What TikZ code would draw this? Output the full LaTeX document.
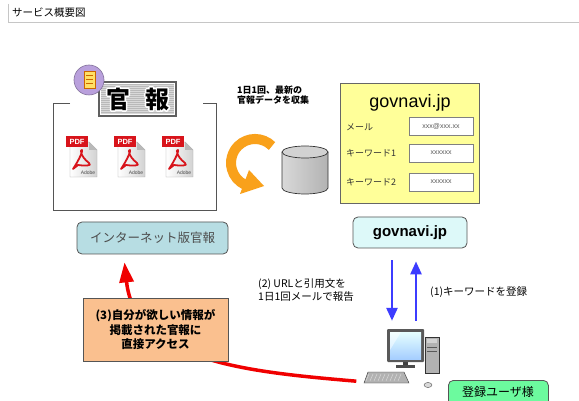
\documentclass[tikz,border=0pt]{standalone}
\usepackage{fontspec}
\setmainfont{Noto Sans CJK JP}
\newfontfamily\latinfont{Liberation Sans}
\usetikzlibrary{arrows.meta,calc}

\definecolor{framegray}{HTML}{555555}
\definecolor{formyellow}{HTML}{FFFF99}
\definecolor{webblue}{HTML}{B7DDE3}
\definecolor{svcfill}{HTML}{DDF9F9}
\definecolor{notefill}{HTML}{FAC08F}
\definecolor{userfill}{HTML}{6CFA9E}
\definecolor{cycleorange}{HTML}{F9A11B}
\definecolor{mailblue}{HTML}{3C3CFF}
\definecolor{accessred}{HTML}{F00000}
\definecolor{pdfred}{HTML}{D8141B}
\definecolor{badgepurple}{HTML}{B9A0DC}

\newcommand{\fs}[1]{\fontsize{#1}{#1}\selectfont}
% white glyph outline, stroked only
\newcommand{\strokedonly}[1]{\special{pdf:literal direct 1 Tr 1 1 1 RG 3.2 w 1 j}#1\special{pdf:literal direct 0 Tr}}

\tikzset{
  roundbox/.style={draw=framegray, line width=0.8pt, rounded corners=5pt, inner sep=0pt},
  formfield/.style={draw=gray, fill=white, minimum width=64pt, minimum height=18pt,
                    inner sep=0pt, font=\latinfont\fs{7}, text=gray!70!black},
  formlabel/.style={anchor=west, inner sep=0pt, font=\fs{9}, text=black!80},
  caption/.style={align=left, inner sep=0pt, font=\fs{10.5}},
  bannerglyph/.style={inner sep=0pt, font=\bfseries\fs{24}},
  mailarrow/.style={draw=mailblue, line width=2.6pt, -{Triangle[length=13pt,width=11pt]}},
  pdficon/.pic={
    \shade[left color=white, right color=gray!35, draw=gray!70]
      (-11,-14) -- (8,-14) -- (16,-6) -- (16,21) -- (-11,21) -- cycle;
    \fill[gray!55] (8,-14) -- (8,-6) -- (16,-6) -- cycle;
    \fill[pdfred] (-15,-20) rectangle (7,-9);
    \node[inner sep=0pt, text=white, font=\latinfont\bfseries\fs{7.5}] at (-4,-14.5) {PDF};
    \draw[pdfred, line width=1.8pt, line join=round]
      (-8,13) .. controls (-2,4) and (2,-5) .. (1,-6)
      .. controls (-1,-7) and (-1,0) .. (8,7)
      .. controls (12,10) and (3,10) .. (-3,9) -- cycle;
    \node[inner sep=0pt, text=gray!60!black, font=\latinfont\fs{5}] at (7,17) {Adobe};
  }
}

\begin{document}
\begin{tikzpicture}[x=1pt,y=-1pt]
\useasboundingbox (0,0) rectangle (579,401);
\fill[white] (0,0) rectangle (579,401);

% page heading
\draw[gray!45, line width=0.8pt] (8,4) -- (8,22) -- (579,22);
\node[anchor=west, inner sep=0pt, font=\fs{10.5}] (title) at (12,13) {サービス概要図};

% gazette frame
\draw[framegray, line width=0.9pt] (70,103) -- (53,103) -- (53,210) -- (216,210) -- (216,103) -- (203,103);

% gazette banner
\fill[gray!75!black] (98,81) rectangle (177,117);
\fill[gray!55] (101,84) rectangle (174,114);
\foreach \yy in {85,87,...,113} \draw[gray!30, line width=0.6pt] (101,\yy) -- (174,\yy);
\draw[white, line width=0.8pt] (100.5,83.5) rectangle (174.5,114.5);
\node[bannerglyph] (kanedge) at (118,99) {\strokedonly{官}};
\node[bannerglyph] (poedge) at (157,99) {\strokedonly{報}};
\node[bannerglyph] (kan) at (118,99) {官};
\node[bannerglyph] (po) at (157,99) {報};

% badge
\fill[badgepurple, draw=badgepurple!70!black, line width=0.6pt] (89,80) circle (15);
\fill[orange!40!yellow!60, draw=orange!80!black, line width=0.5pt] (84,71) rectangle (95,88);
\foreach \yy in {75,79,83} \draw[orange!80!black, line width=0.7pt] (86,\yy) -- (93,\yy);

% pdf documents
\pic at (81,156) {pdficon};
\pic at (129,156) {pdficon};
\pic at (177,156) {pdficon};

% collection arrow
\draw[cycleorange, line width=10pt] (272,146) arc[start angle=-45, end angle=-245, radius=24];
\fill[cycleorange] (249,170) -- (240,194) -- (264,186) -- cycle;

% database
\shade[left color=gray!30, right color=gray!60] (282,152) -- (282,188) arc[start angle=-180, end angle=0, x radius=23, y radius=-6] -- (328,152) arc[start angle=0, end angle=180, x radius=23, y radius=-6] -- cycle;
\draw[gray!40!black, line width=0.7pt] (282,152) -- (282,188) arc[start angle=-180, end angle=0, x radius=23, y radius=-6] -- (328,152);
\fill[gray!35, draw=gray!40!black, line width=0.7pt] (305,152) ellipse[x radius=23, y radius=6];

\node[anchor=west, align=left, inner sep=0pt, font=\bfseries\fs{9}] (collect) at (237,95)
  {1日1回、最新の\\[1pt]官報データを収集};

% registration form
\node[draw=gray!80!black, fill=formyellow, line width=0.8pt, minimum width=139pt, minimum height=120pt] (form) at (409.5,143) {};
\node[inner sep=0pt, font=\latinfont\fs{18}] at (410,103) {govnavi.jp};
\node[formlabel] at (346,127) {メール};
\node[formlabel] at (346,153) {キーワード1};
\node[formlabel] at (346,182) {キーワード2};
\node[formfield] (f1) at (441,126) {xxx@xxx.xx};
\node[formfield] (f2) at (441,153) {xxxxxx};
\node[formfield] (f3) at (441,182) {xxxxxx};

% service boxes
\node[roundbox, fill=webblue, minimum width=151pt, minimum height=32pt,
      font=\fs{12.5}, text=black!70] (web) at (152.5,238) {インターネット版官報};
\node[roundbox, fill=svcfill, minimum width=114pt, minimum height=31pt,
      font=\latinfont\bfseries\fs{15}] (gv) at (410,232.5) {govnavi.jp};

% user computer
\node[minimum width=75pt, minimum height=60pt, inner sep=0pt] (pc) at (405,352) {};
\begin{scope}[shift={(pc.center)}]
  \fill[gray!60, draw=gray!40!black, line width=0.4pt] (20,-15) rectangle (34,21);
  \fill[gray!35] (22,-13) rectangle (32,-9);
  \draw[gray!70!black, line width=0.4pt] (22,-5) -- (32,-5) (22,-1) -- (32,-1);
  \fill[gray!50!black] (-2,9) rectangle (3,14);
  \fill[gray!60!black] (-9,13) rectangle (10,16);
  \fill[gray!70!black, rounded corners=1pt] (-18,-23) rectangle (19,10);
  \shade[top color=cyan!10, bottom color=cyan!45!blue!35] (-15,-20) rectangle (16,7);
  \fill[white, opacity=0.5] (-15,-20) -- (-4,-20) -- (-15,-2) -- cycle;
  \fill[gray!60, draw=gray!40!black, line width=0.4pt] (-37,20) -- (-1,20) -- (4,31) -- (-41,31) -- cycle;
  \foreach \kx in {-36,-32,...,-4} \draw[gray!30, line width=0.5pt] (\kx,22) -- (\kx-3,29);
  \fill[gray!30, draw=gray!60!black, line width=0.4pt] (23,33) ellipse[x radius=4, y radius=2.5];
\end{scope}

\node[roundbox, fill=userfill, minimum width=100pt, minimum height=28pt, anchor=north west]
  (user) at (448,380) {};
\node[inner sep=0pt, font=\fs{12}] at (498,392) {登録ユーザ様};

% mail exchange
\draw[mailarrow] ($(gv.south)+(-18,12)$) -- ($(pc.north)+(-13,-1)$);
\draw[mailarrow] ($(pc.north)+(11,-1)$) -- ($(gv.south)+(6,13)$);
\node[caption, anchor=west] (report) at (258,290) {(2) URLと引用文を\\[1.5pt]1日1回メールで報告};
\node[caption, anchor=west] (register) at (430,292) {(1)キーワードを登録};

% direct access
\draw[accessred, line width=3.5pt, -{Triangle[length=20pt,width=14pt]}]
  ($(pc.south west)+(-11,-1)$) .. controls (250,372) and (135,362) .. ($(web.south)+(-28,8)$);
\node[draw=framegray, fill=notefill, line width=0.8pt, minimum width=145pt, minimum height=63pt,
      align=center, font=\bfseries\fs{11.5}] (note) at (155.5,329.5)
  {(3)自分が欲しい情報が\\[2pt]掲載された官報に\\[2pt]直接アクセス};
\end{tikzpicture}
\end{document}
